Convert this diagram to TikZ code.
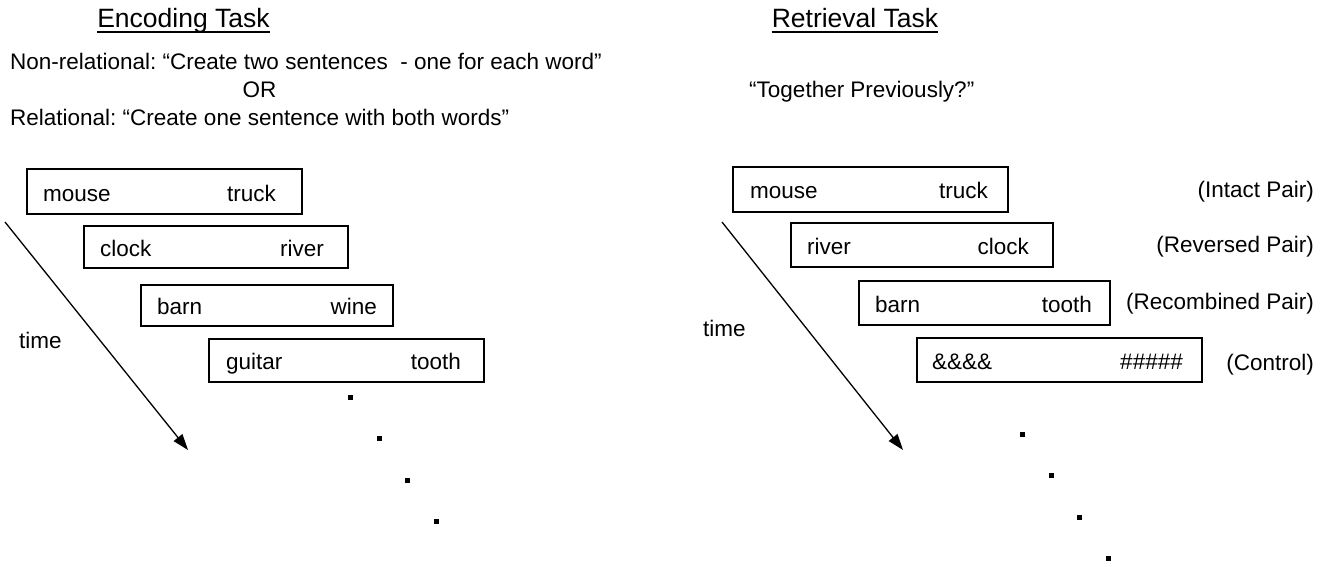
\documentclass[tikz,border=0pt]{standalone}
\usepackage{fontspec}
\setmainfont{Liberation Sans}
\usetikzlibrary{arrows.meta}
\frenchspacing
\begin{document}
\begin{tikzpicture}[x=1pt,y=-1pt,
  hdr/.style={inner sep=0pt,anchor=base,font=\fontsize{26.5}{32}\selectfont},
  txt/.style={inner sep=0pt,font=\fontsize{22.5}{27}\selectfont},
  wbox/.style={draw,line width=2.7pt,inner sep=0pt},
  timearrow/.style={line width=1.3pt,-{Triangle[length=16pt,width=11pt]}},
  uline/.style={line width=2pt},
  dotsq/.style={fill=black,inner sep=0pt,minimum size=5pt,draw=none}]
\useasboundingbox (0,0) rectangle (1334,566);
% headers
\node[hdr] (enc) at (183.5,27) {Encoding Task};
\node[hdr] (ret) at (855,27) {Retrieval Task};
\draw[uline] ([yshift=-5pt]enc.base west) -- ([yshift=-5pt]enc.base east);
\draw[uline] ([yshift=-5pt]ret.base west) -- ([yshift=-5pt]ret.base east);
% instructions
\node[txt,anchor=base west] (nonrel) at (10,69) {Non-relational: “Create two sentences\ \ - one for each word”};
\node[txt,anchor=base] (or) at (259.5,97) {OR};
\node[txt,anchor=base west] (rel) at (10,125) {Relational: “Create one sentence with both words”};
\node[txt,anchor=base west] (tog) at (749,97) {“Together Previously?”};
% left boxes
\node[wbox,minimum width=275pt,minimum height=45pt] (L1) at (164.5,191.5) {};
\node[wbox,minimum width=264pt,minimum height=42pt] (L2) at (216,247) {};
\node[wbox,minimum width=252pt,minimum height=41pt] (L3) at (267,305.5) {};
\node[wbox,minimum width=275pt,minimum height=43pt] (L4) at (346.5,360.5) {};
\node[txt,anchor=base west] (l1a) at (43,201) {mouse};
\node[txt,anchor=base east] (l1b) at (276,201) {truck};
\node[txt,anchor=base west] (l2a) at (100,256) {clock};
\node[txt,anchor=base east] (l2b) at (324,256) {river};
\node[txt,anchor=base west] (l3a) at (157,314.5) {barn};
\node[txt,anchor=base east] (l3b) at (377,314.5) {wine};
\node[txt,anchor=base west] (l4a) at (226,369.5) {guitar};
\node[txt,anchor=base east] (l4b) at (461,369.5) {tooth};
% left time arrow
\coordinate (la0) at (5,222);
\coordinate (la1) at (188,450);
\draw[timearrow] (la0) -- (la1);
\node[txt,anchor=base west] (ltime) at (19,348) {time};
% left dots
\node[dotsq] (ld1) at (350,397) {};
\node[dotsq] (ld2) at (379,438) {};
\node[dotsq] (ld3) at (407,480) {};
\node[dotsq] (ld4) at (436,521) {};
% right boxes
\node[wbox,minimum width=275pt,minimum height=45pt] (R1) at (870.5,189.5) {};
\node[wbox,minimum width=262pt,minimum height=44pt] (R2) at (922,245) {};
\node[wbox,minimum width=251pt,minimum height=44pt] (R3) at (984.5,303) {};
\node[wbox,minimum width=285pt,minimum height=44pt] (R4) at (1059.5,360) {};
\node[txt,anchor=base west] (r1a) at (750,198.5) {mouse};
\node[txt,anchor=base east] (r1b) at (988,198.5) {truck};
\node[txt,anchor=base west] (r2a) at (807,254) {river};
\node[txt,anchor=base east] (r2b) at (1029,254) {clock};
\node[txt,anchor=base west] (r3a) at (875,312) {barn};
\node[txt,anchor=base east] (r3b) at (1092,312) {tooth};
\node[txt,anchor=base west] (r4a) at (932,369) {\&\&\&\&};
\node[txt,anchor=base east] (r4b) at (1183,369) {\#\#\#\#\#};
% right labels
\node[txt,anchor=base east] (lab1) at (1314,197) {(Intact Pair)};
\node[txt,anchor=base east] (lab2) at (1314,252) {(Reversed Pair)};
\node[txt,anchor=base east] (lab3) at (1314,309) {(Recombined Pair)};
\node[txt,anchor=base east] (lab4) at (1314,370) {(Control)};
% right time arrow
\coordinate (ra0) at (722,222);
\coordinate (ra1) at (903,450);
\draw[timearrow] (ra0) -- (ra1);
\node[txt,anchor=base west] (rtime) at (703,336) {time};
% right dots
\node[dotsq] (rd1) at (1022,434) {};
\node[dotsq] (rd2) at (1051,475) {};
\node[dotsq] (rd3) at (1079,517) {};
\node[dotsq] (rd4) at (1108,558) {};
\end{tikzpicture}
\end{document}
